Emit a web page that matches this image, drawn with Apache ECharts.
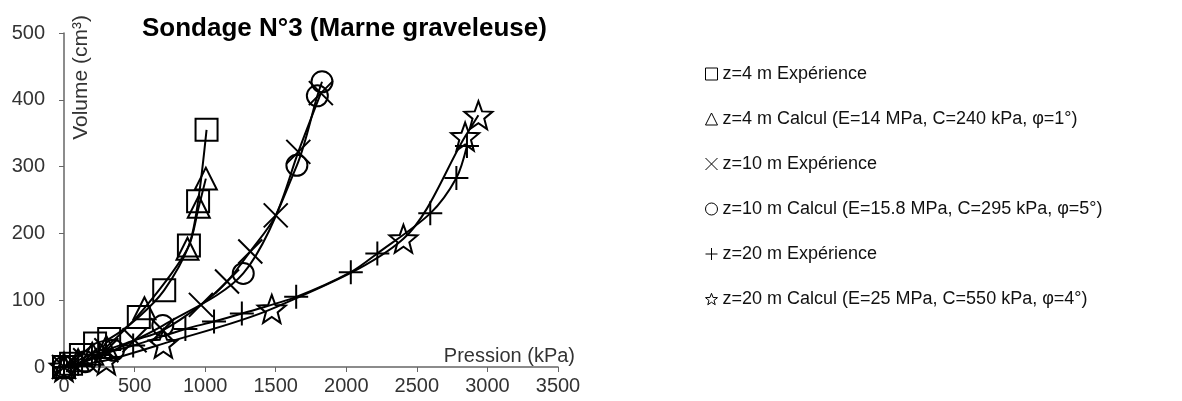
<!DOCTYPE html>
<html>
<head>
<meta charset="utf-8">
<title>Sondage N°3</title>
<script src="https://cdn.jsdelivr.net/npm/echarts@6/dist/echarts.min.js"></script>
<style>
	html, body {
		margin: 0;
		padding: 0;
		background: #fff;
	}
	#chart_sondage {
		width: 1182px;
		height: 401px;
	}
</style>
</head>
<body>
<div id="chart_sondage"></div>
<script>
	// [pression kPa, volume cm3]
	var z4Exp = [[0, 0], [50, 5], [120, 18], [220, 35], [320, 42], [530, 75], [710, 115], [885, 182], [950, 248], [1010, 355]];
	var z4Calc = [[0, 0], [100, 10], [200, 20], [300, 30], [570, 88], [875, 177], [955, 240], [1005, 282]];
	var z10Exp = [[0, 0], [150, 10], [300, 25], [500, 40], [700, 55], [970, 93], [1155, 128], [1320, 173], [1500, 227], [1660, 322], [1820, 410]];
	var z10Calc = [[0, 0], [150, 8], [350, 25], [700, 62], [1270, 140], [1650, 302], [1795, 406], [1828, 427]];
	var z20Exp = [[0, 0], [100, 5], [250, 18], [490, 32], [860, 57], [1063, 68], [1260, 80], [1645, 105], [2032, 142], [2220, 170], [2595, 230], [2780, 283], [2855, 331]];
	var z20Calc = [[0, 0], [300, 10], [704, 35], [1472, 87], [2405, 192], [2842, 345], [2936, 377]];

	var seriesNames = [
		'z=4 m Expérience',
		'z=4 m Calcul (E=14 MPa, C=240 kPa, φ=1°)',
		'z=10 m Expérience',
		'z=10 m Calcul (E=15.8 MPa, C=295 kPa, φ=5°)',
		'z=20 m Expérience',
		'z=20 m Calcul (E=25 MPa, C=550 kPa, φ=4°)'
	];
	var xTicks = [0, 3500, 500];
	var yTicks = [0, 500, 100];

	// marqueurs creux
	var symX = 'path://M0,0L10,10M10,0L0,10';
	var symPlus = 'path://M5,0L5,10M0,5L10,5';
	var symStar = 'path://M10,0L12.47,6.6L19.51,6.91L13.99,11.3L15.88,18.09L10,14.2L4.12,18.09L6.01,11.3L0.49,6.91L7.53,6.6Z';
	var symbols = ['rect', 'triangle', symX, 'circle', symPlus, symStar];
	var sizes = [22, 22, 24, 21, 24, 28];
	var datas = [z4Exp, z4Calc, z10Exp, z10Calc, z20Exp, z20Calc];

	var series = [];
	for (var i = 0; i < datas.length; i++) {
		series.push({
			name: seriesNames[i],
			type: 'line',
			data: datas[i],
			smooth: 0.3,
			symbol: symbols[i],
			symbolSize: sizes[i],
			showAllSymbol: true,
			animation: false,
			itemStyle: {
				color: 'rgba(0,0,0,0)',
				borderColor: '#000',
				borderWidth: 2
			},
			lineStyle: {
				color: '#000',
				width: 2
			}
		});
	}

	var font = 'Liberation Sans, Arial';

	var option = {
		animation: false,
		title: {
			text: 'Sondage N°3 (Marne graveleuse)',
			left: 137,
			top: 11,
			textStyle: {
				fontFamily: font,
				fontWeight: 'bold',
				fontSize: 26,
				color: '#000'
			}
		},
		legend: {
			orient: 'vertical',
			left: 700,
			top: 60,
			itemWidth: 12,
			itemHeight: 12,
			itemGap: 27,
			data: seriesNames.map(function(n, k) {
				return { name: n, icon: symbols[k] };
			}),
			itemStyle: {
				color: 'rgba(0,0,0,0)',
				borderColor: '#000',
				borderWidth: 1
			},
			textStyle: {
				fontFamily: font,
				fontSize: 18,
				color: '#111'
			}
		},
		grid: {
			left: 64,
			right: 624,
			top: 33,
			bottom: 34
		},
		xAxis: {
			type: 'value',
			min: xTicks[0],
			max: xTicks[1],
			interval: xTicks[2],
			name: 'Pression (kPa)',
			nameLocation: 'end',
			nameGap: 17,
			nameTextStyle: {
				fontFamily: font,
				fontSize: 20,
				color: '#333',
				align: 'right',
				verticalAlign: 'bottom',
				padding: [0, 0, 1, 0]
			},
			splitLine: { show: false },
			axisLine: { lineStyle: { color: '#666', width: 1.5 } },
			axisTick: { length: 5, lineStyle: { color: '#666' } },
			axisLabel: {
				fontFamily: font,
				fontSize: 20,
				color: '#333',
				margin: 9,
				formatter: function(v) { return String(v); }
			}
		},
		yAxis: {
			type: 'value',
			min: yTicks[0],
			max: yTicks[1],
			interval: yTicks[2],
			name: 'Volume (cm³)',
			nameLocation: 'end',
			nameRotate: 90,
			nameGap: 18,
			nameTextStyle: {
				fontFamily: font,
				fontSize: 21,
				color: '#333',
				align: 'right',
				verticalAlign: 'top',
				padding: [7, 0, 0, 0]
			},
			splitLine: { show: false },
			axisLine: { show: true, lineStyle: { color: '#666', width: 1.5 } },
			axisTick: { show: true, length: 5, lineStyle: { color: '#666' } },
			axisLabel: {
				fontFamily: font,
				fontSize: 20,
				color: '#333',
				margin: 19
			}
		},
		series: series
	};

	var myChart = echarts.init(document.getElementById('chart_sondage'));
	myChart.setOption(option);
</script>
</body>
</html>
